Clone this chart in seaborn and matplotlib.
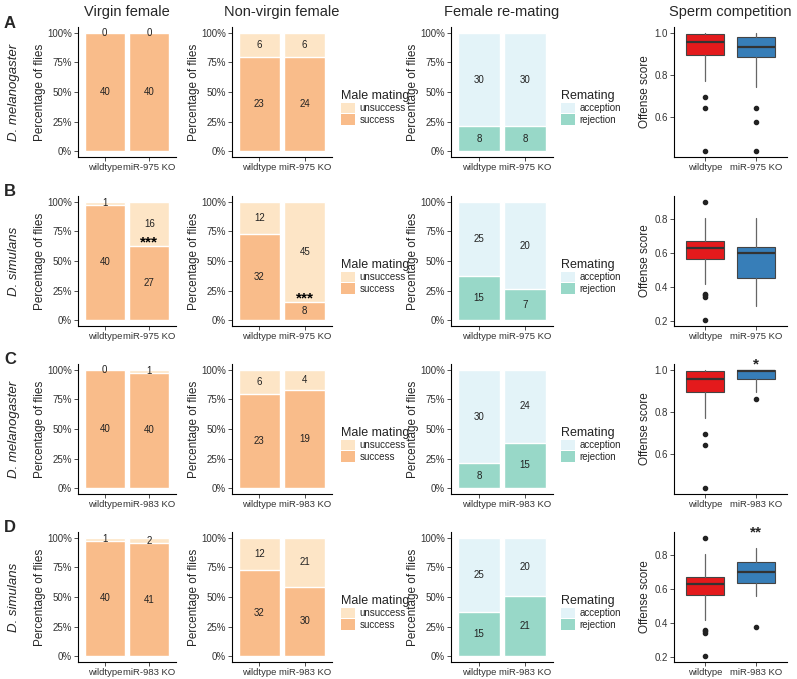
import numpy as np
import pandas as pd
import matplotlib
matplotlib.use('Agg')
import matplotlib.pyplot as plt
from matplotlib.patches import Patch
import seaborn as sns

# ---- datos ----
row_letters = ['A', 'B', 'C', 'D']
row_species = ['D. melanogaster', 'D. simulans', 'D. melanogaster', 'D. simulans']
row_genotypes = [['wildtype', 'miR-975 KO'], ['wildtype', 'miR-975 KO'],
                 ['wildtype', 'miR-983 KO'], ['wildtype', 'miR-983 KO']]
col_titles = ['Virgin female', 'Non-virgin female', 'Female re-mating', 'Sperm competition']

virgin_success = [[40, 40], [40, 27], [40, 40], [40, 41]]
virgin_unsuccess = [[0, 0], [1, 16], [0, 1], [1, 2]]
nonvirgin_success = [[23, 24], [32, 8], [23, 19], [32, 30]]
nonvirgin_unsuccess = [[6, 6], [12, 45], [6, 4], [12, 21]]
remating_rejection = [[8, 8], [15, 7], [8, 15], [15, 21]]
remating_acceptance = [[30, 30], [25, 20], [30, 24], [25, 20]]

virgin_stars = ['', '***', '', '']
nonvirgin_stars = ['', '***', '', '']
sperm_stars = ['', '', '*', '**']

# boxplot summary (offense score)
sperm_q1 = [[0.892, 0.886], [0.563, 0.451], [0.892, 0.958], [0.563, 0.636]]
sperm_med = [[0.955, 0.931], [0.628, 0.598], [0.955, 0.993], [0.628, 0.697]]
sperm_q3 = [[0.994, 0.980], [0.670, 0.637], [0.994, 1.000], [0.670, 0.758]]
sperm_lo = [[0.771, 0.743], [0.420, 0.288], [0.771, 0.896], [0.420, 0.558]]
sperm_hi = [[1.000, 1.000], [0.808, 0.808], [1.000, 1.000], [0.808, 0.843]]
sperm_out = [[[0.695, 0.642, 0.436], [0.640, 0.575, 0.438]],
             [[0.900, 0.358, 0.350, 0.343, 0.206], []],
             [[0.695, 0.642, 0.436], [0.859]],
             [[0.900, 0.358, 0.350, 0.343, 0.206], [0.377]]]
sperm_ylim = [(0.407, 1.028), (0.17, 0.935), (0.407, 1.028), (0.17, 0.935)]
sperm_ticks = [[0.6, 0.8, 1.0], [0.2, 0.4, 0.6, 0.8], [0.6, 0.8, 1.0], [0.2, 0.4, 0.6, 0.8]]

# colores
c_success = '#F9BC8A'
c_unsuccess = '#FDE5C6'
c_accept = '#E3F3F8'
c_reject = '#98D8C8'
c_box = ['#E41A1C', '#377EB8']

sns.set_theme(style='ticks')
plt.rcParams['font.family'] = ['Liberation Sans', 'DejaVu Sans']

W, H = 797, 679
fig = plt.figure(figsize=(W / 100, H / 100), dpi=100)

cols_px = [(78, 176), (232, 332), (451, 553), (674, 787)]
rows_px = [(27, 157), (196, 326), (364, 494), (532, 662)]


def add_ax(c, r):
    l, rr = cols_px[c]
    t, b = rows_px[r]
    return fig.add_axes([l / W, 1 - b / H, (rr - l) / W, (b - t) / H])


def style_ax(ax):
    sns.despine(ax=ax)
    for s in ['left', 'bottom']:
        ax.spines[s].set_linewidth(0.8)
        ax.spines[s].set_color('black')
    ax.tick_params(axis='both', length=3, width=0.6, color='#333333',
                   labelsize=7, pad=1.5, labelcolor='#333333')
    ax.tick_params(axis='x', labelsize=6.8)
    ax.set_xlabel('')


def stacked(ax, genos, bottom_n, top_n, c_bottom, c_top, stars):
    df = pd.DataFrame({'genotype': genos, 'bottom': bottom_n, 'top': top_n})
    df['total'] = df['bottom'] + df['top']
    df['pct_all'] = 100.0
    df['pct_bottom'] = df['bottom'] / df['total'] * 100
    sns.barplot(data=df, x='genotype', y='pct_all', color=c_top, width=0.9,
                saturation=1, ax=ax)
    sns.barplot(data=df, x='genotype', y='pct_bottom', color=c_bottom, width=0.9,
                saturation=1, ax=ax)
    for i, row in df.iterrows():
        pb = row['pct_bottom']
        ax.text(i, pb / 2, f"{int(row['bottom'])}", ha='center', va='center',
                fontsize=7, color='#222222')
        ax.text(i, pb + (100 - pb) / 2, f"{int(row['top'])}", ha='center',
                va='center', fontsize=7, color='#222222')
    if stars:
        pb = df['pct_bottom'].iloc[1]
        ax.text(1, pb + 3, stars, ha='center', va='center', fontsize=11,
                fontweight='bold', color='black')
    ax.set_xlim(-0.6, 1.6)
    ax.set_ylim(-5, 105)
    ax.set_yticks([0, 25, 50, 75, 100])
    ax.set_yticklabels(['0%', '25%', '50%', '75%', '100%'])
    style_ax(ax)
    ax.set_ylabel('Percentage of flies', fontsize=8.5, labelpad=0.5)


def legend(ax, x_px, y_px, title, labels, colors):
    handles = [Patch(facecolor=c, edgecolor='none') for c in colors]
    lg = ax.legend(handles, labels, title=title, loc='upper left',
                   bbox_to_anchor=(x_px / W, 1 - y_px / H),
                   bbox_transform=fig.transFigure, frameon=False,
                   fontsize=7, title_fontsize=9, borderpad=0, labelspacing=0.1,
                   handlelength=1.5, handleheight=1.3, handletextpad=0.45,
                   alignment='left')
    lg.get_title().set_color('#222222')


for r in range(4):
    genos = row_genotypes[r]
    t, b = rows_px[r]

    ax1 = add_ax(0, r)
    stacked(ax1, genos, virgin_success[r], virgin_unsuccess[r], c_success,
            c_unsuccess, virgin_stars[r])

    ax2 = add_ax(1, r)
    stacked(ax2, genos, nonvirgin_success[r], nonvirgin_unsuccess[r], c_success,
            c_unsuccess, nonvirgin_stars[r])
    legend(ax2, 336, t + 58, 'Male mating', ['unsuccess', 'success'],
           [c_unsuccess, c_success])

    ax3 = add_ax(2, r)
    stacked(ax3, genos, remating_rejection[r], remating_acceptance[r], c_reject,
            c_accept, '')
    legend(ax3, 556, t + 58, 'Remating', ['acception', 'rejection'],
           [c_accept, c_reject])

    ax4 = add_ax(3, r)
    stats = []
    for g in range(2):
        stats.append(dict(med=sperm_med[r][g], q1=sperm_q1[r][g], q3=sperm_q3[r][g],
                          whislo=sperm_lo[r][g], whishi=sperm_hi[r][g],
                          fliers=sperm_out[r][g]))
    bp = ax4.bxp(stats, positions=[0, 1], widths=0.75, patch_artist=True,
                 showcaps=False,
                 boxprops=dict(edgecolor='#444444', linewidth=0.8),
                 whiskerprops=dict(color='#666666', linewidth=0.9),
                 medianprops=dict(color='#333333', linewidth=1.6),
                 flierprops=dict(marker='o', markersize=3, markerfacecolor='#222222',
                                 markeredgecolor='#222222'))
    for patch, c in zip(bp['boxes'], c_box):
        patch.set_facecolor(c)
    ax4.set_xlim(-0.6, 1.6)
    ax4.set_ylim(*sperm_ylim[r])
    ax4.set_yticks(sperm_ticks[r])
    ax4.set_yticklabels([f'{v:.1f}' for v in sperm_ticks[r]])
    ax4.set_xticks([0, 1])
    ax4.set_xticklabels(genos)
    style_ax(ax4)
    ax4.set_ylabel('Offense score', fontsize=8.5, labelpad=2)
    if sperm_stars[r]:
        ax4.text(1, sperm_ylim[r][1], sperm_stars[r], ha='center', va='center',
                 fontsize=11, fontweight='bold', clip_on=False)

    # etiquetas de fila
    fig.text(4 / W, 1 - (t - 4) / H, row_letters[r], fontsize=12, fontweight='bold',
             ha='left', va='center')
    fig.text(14 / W, 1 - (t + (b - t) / 2) / H, row_species[r], fontsize=9.5,
             style='italic', rotation=90, ha='center', va='center')

# titulos de columna
for c, title in enumerate(col_titles):
    l, rr = cols_px[c]
    fig.text((l + rr) / 2 / W, 1 - 12 / H, title, fontsize=10.5, ha='center',
             va='center')

plt.savefig('out.png', dpi=100)
